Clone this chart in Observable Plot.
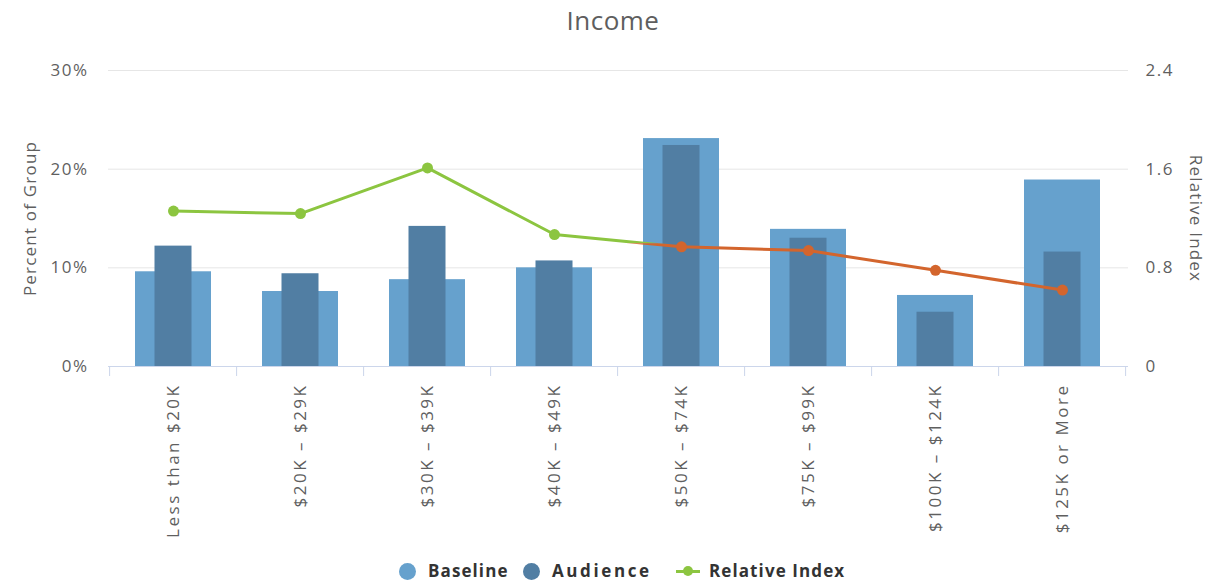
<!DOCTYPE html>
<html>
<head>
<meta charset="utf-8">
<script src="https://cdn.jsdelivr.net/npm/d3@7"></script>
<script src="https://cdn.jsdelivr.net/npm/@observablehq/plot@0.6"></script>
<style>
  body { margin: 0; background: #fff; font-family: "Open Sans", sans-serif; }
  #wrap { position: relative; width: 1224px; height: 582px; overflow: hidden; }
  #chart { position: absolute; left: 0; top: 0; }
  #title { position: absolute; left: 0; top: 2px; width: 1226px; text-align: center; font-size: 26px; color: #5e5e5e; letter-spacing: 0.5px; }
  .leg { position: absolute; top: 560px; font-size: 17px; font-weight: 700; color: #333; letter-spacing: 1.1px; line-height: 22px; }
  .sw { position: absolute; width: 17px; height: 17px; border-radius: 50%; top: 562.5px; }
  .ln { position: absolute; height: 3px; top: 569.5px; width: 24px; }
  .dt { position: absolute; width: 10px; height: 10px; border-radius: 50%; top: 566px; }
</style>
</head>
<body>
<div id="wrap">
  <div id="chart"></div>
  <div id="title">Income</div>
  <div id="legend"></div>
</div>
<script>
const categories = ["Less than $20K", "$20K – $29K", "$30K – $39K", "$40K – $49K", "$50K – $74K", "$75K – $99K", "$100K – $124K", "$125K or More"];
const baseline = [9.6, 7.6, 8.8, 10.0, 23.1, 13.9, 7.2, 18.9];
const audience = [12.2, 9.4, 14.2, 10.7, 22.4, 13.0, 5.5, 11.6];
const relativeIndex = [1.26, 1.24, 1.61, 1.07, 0.97, 0.94, 0.78, 0.62];
const percentTicks = [0, 10, 20, 30];
const indexMax = 2.4;
const percentMax = 30;
const seriesNames = ["Baseline", "Audience", "Relative Index"];

const colors = { baseline: "#66a1cd", audience: "#517ea3", high: "#8cc540", low: "#d3652d" };
const toPct = v => v * percentMax / indexMax;

const data = categories.map((c, i) => ({ cat: c, baseline: baseline[i], audience: audience[i], index: relativeIndex[i] }));

const chart = Plot.plot({
  width: 1224,
  height: 582,
  marginTop: 70,
  marginBottom: 216,
  marginLeft: 108,
  marginRight: 96,
  style: { fontFamily: "Open Sans", color: "#666", background: "transparent" },
  x: { domain: categories, paddingInner: 0.4, paddingOuter: 0.2, label: null },
  y: { domain: [0, percentMax], label: null },
  color: { type: "identity" },
  marks: [
    Plot.ruleY(percentTicks.filter(d => d > 0), { stroke: "#e6e6e6", strokeWidth: 1 }),
    Plot.axisY(percentTicks, { anchor: "left", tickSize: 0, tickPadding: 20, tickFormat: d => d + "%", fontSize: 17, fill: "#5f5f5f", label: null }),
    Plot.axisY(percentTicks, { anchor: "right", tickSize: 0, tickPadding: 17, tickFormat: d => String(+(d * indexMax / percentMax).toFixed(1)), fontSize: 17, fill: "#5f5f5f", label: null }),
    Plot.axisX({ tickSize: 0, tickRotate: -90, tickPadding: 17, fontSize: 17, fill: "#5f5f5f", label: null }),
    Plot.text(["Percent of Group"], { frameAnchor: "left", textAnchor: "middle", dx: -78, rotate: -90, fontSize: 17, fill: "#5f5f5f" }),
    Plot.text(["Relative Index"], { frameAnchor: "right", textAnchor: "middle", dx: 67, rotate: 90, fontSize: 17, fill: "#5f5f5f" }),
    Plot.barY(data, { x: "cat", y: "baseline", fill: colors.baseline }),
    Plot.barY(data, { x: "cat", y: "audience", fill: colors.audience, insetLeft: 19.5, insetRight: 19.5 }),
    Plot.ruleY([0], { stroke: "#ccd6eb", strokeWidth: 1 }),
    Plot.line(data, { x: "cat", y: d => toPct(d.index), stroke: colors.high, strokeWidth: 3 }),
    Plot.line(data, { x: "cat", y: d => toPct(d.index), stroke: colors.low, strokeWidth: 3 }),
    Plot.dot(data, { x: "cat", y: d => toPct(d.index), r: 5.5, fill: d => d.index >= 1 ? colors.high : colors.low })
  ]
});
document.getElementById("chart").appendChild(chart);

// Post-process using the library's scales
const sx = chart.scale("x"), sy = chart.scale("y");
const svg = d3.select(chart);
const split = sy.apply(toPct(1));
const defs = svg.append("defs");
defs.append("clipPath").attr("id", "clipHi").append("rect").attr("x", 0).attr("y", 0).attr("width", 1224).attr("height", split);
defs.append("clipPath").attr("id", "clipLo").append("rect").attr("x", 0).attr("y", split).attr("width", 1224).attr("height", 582 - split);
svg.selectAll("g").filter(function () { return this.getAttribute("stroke") === colors.high; }).attr("clip-path", "url(#clipHi)");
svg.selectAll("g").filter(function () { return this.getAttribute("stroke") === colors.low; }).attr("clip-path", "url(#clipLo)");

// Band dividers on the x axis
const step = sx.step || (sx.bandwidth / 0.6);
const y0 = sy.apply(0);
const first = sx.apply(categories[0]) - step * 0.2;
const dividers = svg.append("g").attr("stroke", "#ccd6eb");
for (let i = 0; i <= categories.length; i++) {
  dividers.append("line").attr("x1", first + i * step).attr("x2", first + i * step).attr("y1", y0).attr("y2", y0 + 10);
}

// letter spacing on texts
svg.selectAll('[aria-label="x-axis tick label"] text').style("letter-spacing", "2.5px");
svg.selectAll('[aria-label="y-axis tick label"] text').style("letter-spacing", "1.5px");
svg.selectAll('[aria-label="text"] text').style("letter-spacing", "1.2px");

// Legend
const legend = document.getElementById("legend");
const items = [
  { name: seriesNames[0], kind: "circle", color: colors.baseline, sym: 407, text: 428, ls: 1.1 },
  { name: seriesNames[1], kind: "circle", color: colors.audience, sym: 531, text: 552, ls: 2.6 },
  { name: seriesNames[2], kind: "line", color: colors.high, sym: 688, text: 709, ls: 1.1 }
];
for (const it of items) {
  if (it.kind === "circle") {
    const c = document.createElement("div");
    c.className = "sw"; c.style.left = (it.sym - 8.5) + "px"; c.style.background = it.color;
    legend.appendChild(c);
  } else {
    const l = document.createElement("div");
    l.className = "ln"; l.style.left = (it.sym - 12) + "px"; l.style.background = it.color;
    legend.appendChild(l);
    const d = document.createElement("div");
    d.className = "dt"; d.style.left = (it.sym - 5) + "px"; d.style.background = it.color;
    legend.appendChild(d);
  }
  const t = document.createElement("div");
  t.className = "leg"; t.style.left = it.text + "px"; t.style.letterSpacing = it.ls + "px"; t.textContent = it.name;
  legend.appendChild(t);
}
</script>
</body>
</html>
